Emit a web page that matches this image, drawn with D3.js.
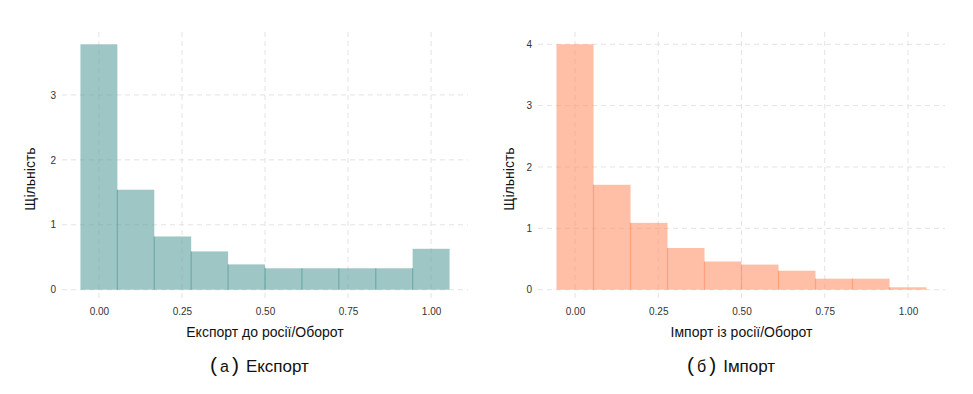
<!DOCTYPE html>
<html>
<head>
	<title>histograms</title>
	<style>
	body { margin: 0; background: #fff; }
	.tick text { font-family: "Liberation Sans", Arial, sans-serif; font-size: 10px; fill: #333; }
	.axtitle { font-family: "Liberation Sans", Arial, sans-serif; font-size: 14px; fill: #111; text-anchor: middle; }
	.caption { font-family: "Liberation Sans", Arial, sans-serif; font-size: 17px; fill: #111; }
	.grid line { stroke: #e3e3e3; stroke-width: 1; stroke-dasharray: 5, 4; }
	</style>
	<script src="https://d3js.org/d3.v7.min.js"></script>
</head>
<body>
	<script type="text/javascript">
		// центри бінів (ширина 1/9)
		var binCenters = [0, 1/9, 2/9, 3/9, 4/9, 5/9, 6/9, 7/9, 8/9, 1];
		var exportDensity = [3.78, 1.54, 0.82, 0.59, 0.39, 0.33, 0.33, 0.33, 0.33, 0.63];
		var importDensity = [4.00, 1.71, 1.09, 0.68, 0.46, 0.41, 0.31, 0.18, 0.18, 0.04];
		var xTicks = [0, 0.25, 0.5, 0.75, 1];
		var exportYTicks = [0, 1, 2, 3];
		var importYTicks = [0, 1, 2, 3, 4];

		var svg = d3.select('body').append('svg')
			.attr('width', 973)
			.attr('height', 394);

		var binWidth = 1 / 9;

		function panel(opt) {
			var left = opt.left, right = opt.right, top = 32, bottom = 302;
			var maxY = d3.max(opt.values);
			var xLo = binCenters[0] - binWidth / 2, xHi = binCenters[binCenters.length - 1] + binWidth / 2;
			var xPad = (xHi - xLo) * 0.05;

			var x = d3.scaleLinear().domain([xLo - xPad, xHi + xPad]).range([left, right]);
			var y = d3.scaleLinear().domain([-maxY * 0.05, maxY * 1.05]).range([bottom, top]);

			var g = svg.append('g');

			// сітка
			g.append('g').attr('class', 'grid')
				.selectAll('line.h').data(opt.yTicks).enter().append('line')
				.attr('x1', left).attr('x2', right)
				.attr('y1', function (d) { return y(d); })
				.attr('y2', function (d) { return y(d); });
			g.append('g').attr('class', 'grid')
				.selectAll('line.v').data(xTicks).enter().append('line')
				.attr('y1', top).attr('y2', bottom)
				.attr('x1', function (d) { return x(d); })
				.attr('x2', function (d) { return x(d); });

			// стовпці
			g.selectAll('rect.bar').data(opt.values).enter().append('rect')
				.attr('class', 'bar')
				.attr('x', function (d, i) { return x(binCenters[i] - binWidth / 2); })
				.attr('width', function (d, i) { return x(binCenters[i] + binWidth / 2) - x(binCenters[i] - binWidth / 2); })
				.attr('y', function (d) { return y(d); })
				.attr('height', function (d) { return y(0) - y(d); })
				.attr('fill', opt.color)
				.attr('fill-opacity', 0.6);

			// межі між стовпцями
			g.selectAll('line.edge').data(opt.values.slice(1)).enter().append('line')
				.attr('x1', function (d, i) { return x(binCenters[i + 1] - binWidth / 2); })
				.attr('x2', function (d, i) { return x(binCenters[i + 1] - binWidth / 2); })
				.attr('y1', function (d, i) { return y(Math.min(d, opt.values[i])); })
				.attr('y2', y(0))
				.attr('stroke', opt.color)
				.attr('stroke-opacity', 0.75)
				.attr('stroke-width', 1.2);

			// осі
			var xAxis = g.append('g')
				.attr('transform', 'translate(0,' + (bottom + 4) + ')')
				.call(d3.axisBottom(x).tickValues(xTicks).tickFormat(d3.format('.2f')).tickSize(0).tickPadding(2));
			xAxis.select('.domain').remove();

			var yAxis = g.append('g')
				.attr('transform', 'translate(' + (left - 4) + ',0)')
				.call(d3.axisLeft(y).tickValues(opt.yTicks).tickFormat(d3.format('d')).tickSize(0).tickPadding(2));
			yAxis.select('.domain').remove();

			g.append('text').attr('class', 'axtitle')
				.attr('x', (left + right) / 2).attr('y', 337)
				.text(opt.xTitle);

			g.append('text').attr('class', 'axtitle')
				.attr('transform', 'translate(' + opt.yTitleX + ',' + ((top + bottom) / 2 + 12) + ') rotate(-90)')
				.text('Щільність');

			var cap = g.append('text').attr('class', 'caption')
				.attr('x', opt.capX).attr('y', 372);
			cap.append('tspan').attr('font-size', 21).text('(');
			cap.append('tspan').attr('dx', 3).attr('font-size', 16).text(opt.capLetter);
			cap.append('tspan').attr('dx', 3).attr('font-size', 21).text(')');
			cap.append('tspan').attr('dx', 7).text(opt.caption);
		}

		panel({
			left: 62, right: 468, values: exportDensity, yTicks: exportYTicks,
			color: '#5ca09e', xTitle: 'Експорт до росії/Оборот', yTitleX: 35,
			capX: 210, capLetter: 'а', caption: 'Експорт'
		});

		panel({
			left: 538, right: 945, values: importDensity, yTicks: importYTicks,
			color: '#ff946b', xTitle: 'Імпорт із росії/Оборот', yTitleX: 514,
			capX: 687, capLetter: 'б', caption: 'Імпорт'
		});
	</script>
</body>
</html>
